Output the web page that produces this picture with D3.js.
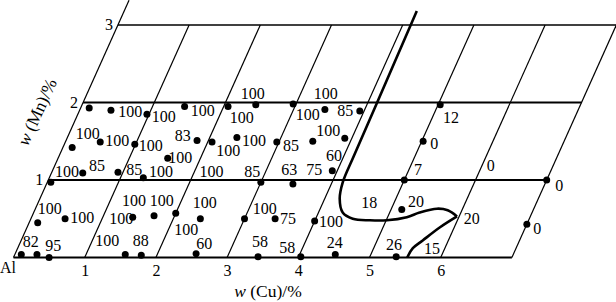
<!DOCTYPE html>
<html>
<head>
<meta charset="utf-8">
<script src="https://cdn.jsdelivr.net/npm/d3@7"></script>
<style>
    body { margin: 0; background: #fff; }
    svg text { font-family: "Liberation Serif", "Times New Roman", serif; fill: #000; }
</style>
</head>
<body>
<div id="chart"></div>
<script>
// Set width and height
var svgWidth = 616;
var svgHeight = 302;

// Tick labels and grid lines (w in %)
var cuTicks = [1, 2, 3, 4, 5, 6];
var mnTicks = [1, 2, 3];
var cuGrid = [0, 1, 2, 3, 4, 5, 6, 7];
var mnGrid = [0, 1, 2, 3];

// Alloy compositions [w(Cu), w(Mn)]
var points = [
    [0.12, 1.93], [0.44, 1.90], [0.97, 1.85], [1.45, 1.95], [2.06, 1.95],
    [2.44, 1.97], [2.96, 1.98], [3.44, 1.91], [3.94, 1.89],
    [0.13, 1.42], [0.49, 1.49], [0.99, 1.46], [1.84, 1.51], [1.54, 1.28],
    [2.06, 1.49], [2.38, 1.55], [2.97, 1.49], [3.47, 1.50], [3.90, 1.54],
    [0.05, 0.97], [0.44, 1.09], [0.93, 1.10], [1.32, 1.03], [3.00, 0.97],
    [3.46, 0.95], [3.93, 1.12], [5.00, 1.00], [5.02, 1.50], [5.03, 1.97],
    [7.00, 1.00], [7.00, 0.43],
    [0.12, 0.45], [0.48, 0.50], [1.42, 0.52], [1.71, 0.54], [2.00, 0.57],
    [2.38, 0.50], [3.00, 0.50], [3.43, 0.50], [4.00, 0.47], [5.15, 0.62],
    [0.09, 0.04], [0.31, 0.04], [0.50, 0.00], [1.55, 0.04], [1.78, 0.03],
    [2.54, 0.05], [3.43, 0.01], [4.03, 0.01], [4.50, 0.04], [5.37, 0.01]
];

// Value labels [w(Cu), w(Mn), text]
var labels = [
    [0.72, 1.88, "100"], [1.22, 1.82, "100"], [1.73, 1.90, "100"], [2.32, 1.81, "100"],
    [2.33, 2.11, "100"], [3.35, 2.12, "100"], [3.23, 1.85, "100"], [3.73, 1.90, "85"],
    [0.26, 1.60, "100"], [0.72, 1.51, "100"], [1.22, 1.45, "100"], [1.61, 1.57, "83"],
    [1.71, 1.29, "100"], [2.34, 1.38, "100"], [2.64, 1.51, "100"], [3.19, 1.45, "85"],
    [3.62, 1.64, "100"], [3.86, 1.31, "60"],
    [0.21, 1.11, "100"], [0.59, 1.19, "85"], [1.14, 1.14, "85"], [1.53, 1.11, "100"],
    [2.24, 1.11, "100"], [2.81, 1.11, "85"], [3.32, 1.13, "63"], [3.67, 1.13, "75"],
    [5.13, 1.13, "7"], [5.26, 1.81, "12"], [5.19, 1.47, "0"], [6.12, 1.19, "0"],
    [7.21, 0.93, "0"], [7.17, 0.38, "0"],
    [4.65, 0.71, "18"], [5.30, 0.72, "20"], [6.19, 0.50, "20"], [5.82, 0.12, "15"],
    [5.26, 0.17, "26"], [4.42, 0.19, "24"], [4.23, 0.47, "100"], [3.22, 0.63, "100"],
    [3.61, 0.50, "75"], [2.34, 0.71, "100"], [2.25, 0.36, "100"], [1.33, 0.74, "100"],
    [1.72, 0.74, "100"], [1.27, 0.50, "100"], [0.71, 0.52, "100"], [0.20, 0.63, "100"],
    [0.14, 0.21, "82"], [0.48, 0.16, "95"], [1.21, 0.22, "100"], [1.68, 0.22, "88"],
    [2.59, 0.18, "60"], [3.36, 0.21, "58"], [3.78, 0.13, "58"]
];

// Phase boundary, upper branch and lower branch [w(Cu), w(Mn)]
var boundaryUpper = [
    [4.11, 3.18], [4.13, 2.00], [4.14, 1.30], [4.15, 0.97], [4.21, 0.76],
    [4.34, 0.58], [4.52, 0.50], [4.77, 0.48], [5.01, 0.48], [5.27, 0.52],
    [5.42, 0.58], [5.64, 0.63], [5.80, 0.61], [5.97, 0.53]
];
var boundaryLower = [
    [5.97, 0.53], [5.80, 0.39], [5.64, 0.22], [5.55, 0.12], [5.53, 0.00]
];

// Create scales: Cu along the bottom, Mn up a slanted axis.
var xLinearScale = d3.scaleLinear().domain([0, 7]).range([13.5, 511.9]);
var yLinearScale = d3.scaleLinear().domain([0, 3]).range([257.5, 25]);
var skewScale = d3.scaleLinear().domain([0, 3]).range([0, 104.4]);

function px(cu, mn) { return xLinearScale(cu) + skewScale(mn); }
function py(mn) { return yLinearScale(mn); }

var svg = d3.select("#chart")
    .append("svg")
    .attr("width", svgWidth)
    .attr("height", svgHeight);

var chartGroup = svg.append("g");

// Lines of constant Mn.
chartGroup.selectAll(".mnLine")
    .data(mnGrid)
    .enter()
    .append("line")
    .attr("x1", d => px(0, d))
    .attr("y1", d => py(d))
    .attr("x2", d => px(7, d))
    .attr("y2", d => py(d))
    .attr("stroke", "#000")
    .attr("stroke-width", d => d == 3 ? 1.4 : 1.8);

// Lines of constant Cu; the Mn axis runs a bit past 3.
chartGroup.selectAll(".cuLine")
    .data(cuGrid)
    .enter()
    .append("line")
    .attr("x1", d => px(d, 0))
    .attr("y1", py(0))
    .attr("x2", d => px(d, d == 0 ? 3.32 : 3))
    .attr("y2", d => py(d == 0 ? 3.32 : 3))
    .attr("stroke", "#000")
    .attr("stroke-width", 1.2);

// Boundary curve.
var boundaryLine = d3.line()
    .x(d => px(d[0], d[1]))
    .y(d => py(d[1]))
    .curve(d3.curveCatmullRom);

[boundaryUpper, boundaryLower].forEach(function(seg) {
    chartGroup.append("path")
        .attr("d", boundaryLine(seg))
        .attr("fill", "none")
        .attr("stroke", "#000")
        .attr("stroke-width", 2.6)
        .attr("stroke-linejoin", "round");
});

// Points.
chartGroup.selectAll("circle")
    .data(points)
    .enter()
    .append("circle")
    .attr("cx", d => px(d[0], d[1]))
    .attr("cy", d => py(d[1]))
    .attr("r", 3.5)
    .attr("fill", "#000");

// Value labels.
chartGroup.selectAll(".valueText")
    .data(labels)
    .enter()
    .append("text")
    .attr("x", d => px(d[0], d[1]))
    .attr("y", d => py(d[1]))
    .attr("text-anchor", "middle")
    .attr("dominant-baseline", "central")
    .attr("font-size", 16)
    .text(d => d[2]);

// Cu axis tick labels.
var bottomAxis = d3.axisBottom(xLinearScale)
    .tickValues(cuTicks)
    .tickSize(0)
    .tickPadding(7)
    .tickFormat(d3.format("d"));
var xAxis = chartGroup.append("g")
    .attr("transform", `translate(0, ${py(0)})`)
    .call(bottomAxis)
    .attr("font-size", 16);
xAxis.select(".domain").remove();

// Mn axis tick labels, moved onto the slanted axis.
var leftAxis = d3.axisLeft(yLinearScale)
    .tickValues(mnTicks)
    .tickSize(0)
    .tickPadding(5)
    .tickFormat(d3.format("d"));
var yAxis = chartGroup.append("g")
    .call(leftAxis)
    .attr("font-size", 16);
yAxis.select(".domain").remove();
yAxis.selectAll(".tick")
    .attr("transform", d => `translate(${px(0, d)}, ${py(d)})`);

// Origin label.
chartGroup.append("text")
    .attr("x", 0)
    .attr("y", 273)
    .attr("font-size", 16)
    .text("Al");

// Axis titles.
var xTitle = chartGroup.append("text")
    .attr("x", 268)
    .attr("y", 297)
    .attr("text-anchor", "middle")
    .attr("font-size", 17.5);
xTitle.append("tspan").attr("font-style", "italic").text("w");
xTitle.append("tspan").text(" (Cu)/%");

var angle = Math.atan2(py(3) - py(0), px(0, 3) - px(0, 0)) * 180 / Math.PI;
var yTitle = chartGroup.append("text")
    .attr("transform", `translate(37, 112) rotate(${angle})`)
    .attr("text-anchor", "middle")
    .attr("dominant-baseline", "central")
    .attr("font-size", 17.5);
yTitle.append("tspan").attr("font-style", "italic").text("w");
yTitle.append("tspan").text(" (Mn)/%");
</script>
</body>
</html>
